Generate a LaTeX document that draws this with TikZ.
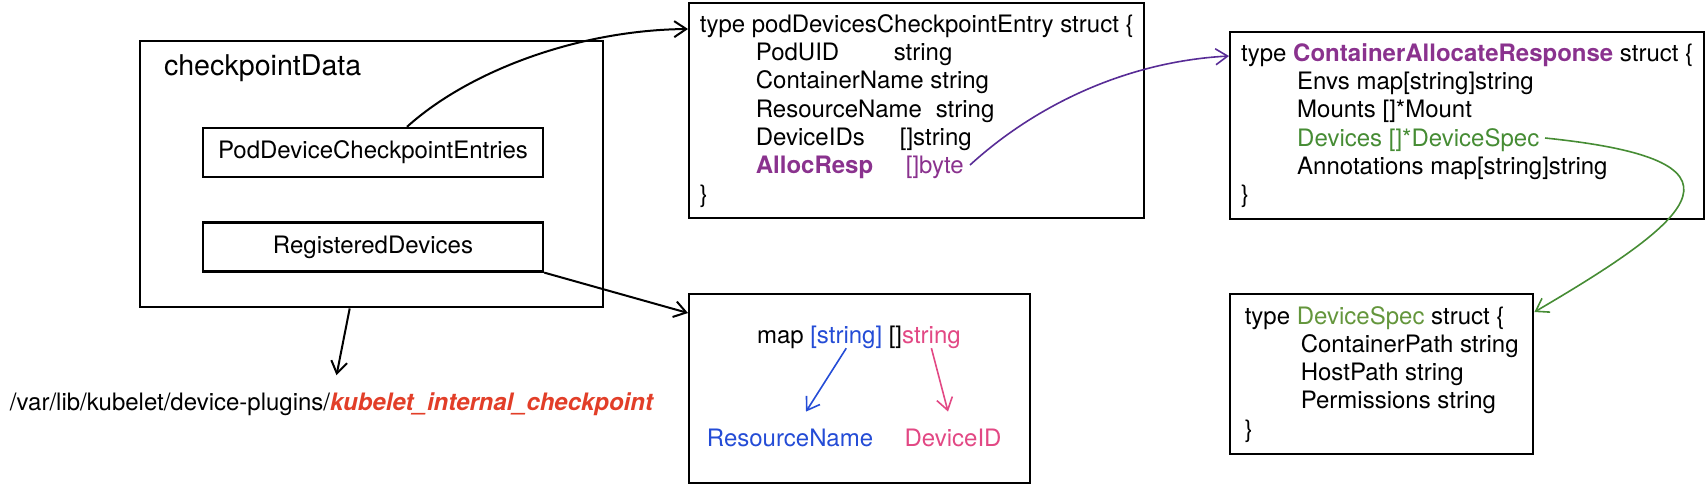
\documentclass[tikz,border=0pt]{standalone}
\usepackage{fontspec}
\setmainfont{TeX Gyre Heros}
\usepackage{xcolor}
\usetikzlibrary{arrows.meta,positioning}

\definecolor{purp}{RGB}{138,50,142}
\definecolor{arrpurp}{RGB}{88,44,150}
\definecolor{grn}{RGB}{70,140,52}
\definecolor{olive}{RGB}{100,150,60}
\definecolor{blu}{RGB}{36,76,214}
\definecolor{pnk}{RGB}{226,72,132}
\definecolor{ckred}{RGB}{226,62,40}

\newcommand{\tb}{\hspace*{28pt}}

\begin{document}
\begin{tikzpicture}[x=0.5pt, y=-0.5pt, ->, >={Straight Barb[length=6pt,width=8pt]}, line width=1pt]
        \tikzstyle{every node}=[font=\fontsize{12}{14.15}\selectfont]
        \tikzstyle{box}=[draw, line width=1.2pt, rectangle, inner sep=0pt, anchor=north west]
        \tikzstyle{code}=[box, align=left]
        \tikzstyle{field}=[draw, line width=1.2pt, minimum width=170pt, minimum height=24.5pt, inner sep=0pt]
        \tikzstyle{txt}=[inner sep=0pt, outer sep=0pt]
        \useasboundingbox (0,0) rectangle (1706,484);

        % checkpoint data
        \node[box, minimum width=231.5pt, minimum height=133pt] (cpdata) at (139,40) {};
        \node[txt, anchor=west, font=\fontsize{14.3}{16}\selectfont] (cptitle) at (164,68) {checkpointData};
        \node[field] (entries) at (373,152.5) {PodDeviceCheckpointEntries};
        \node[field] (regdev) [below=21.5pt of entries] {RegisteredDevices};
        \node[txt, anchor=base west] (ckpath) at (10,410) {/var/lib/kubelet/device-plugins/\textcolor{ckred}{\bfseries\itshape kubelet\_internal\_checkpoint}};

        % structs
        \node[code, minimum width=227.5pt, minimum height=107.5pt] (podentry) at (688,2) {type podDevicesCheckpointEntry struct \{\\
        \tb\makebox[69pt][l]{PodUID}string\\
        \tb ContainerName string\\
        \tb\makebox[90pt][l]{ResourceName}string\\
        \tb\makebox[72pt][l]{DeviceIDs}[]string\\
        \tb\makebox[75pt][l]{\textcolor{purp}{\bfseries AllocResp}}\textcolor{purp}{[]byte}\\
        \}};
        \node[code, minimum width=237pt, minimum height=93.5pt] (cresp) at (1229,31) {type \textcolor{purp}{\bfseries ContainerAllocateResponse} struct \{\\
        \tb Envs map[string]string\\
        \tb Mounts []*Mount\\
        \tb\textcolor{grn}{Devices []*DeviceSpec}\\
        \tb Annotations map[string]string\\
        \}};
        \node[code, minimum width=151.5pt, minimum height=80pt] (dspec) at (1229,293) {type \textcolor{olive}{DeviceSpec} struct \{\\
        \tb ContainerPath string\\
        \tb HostPath string\\
        \tb Permissions string\\
        \}};

        % registered devices map
        \node[box, minimum width=170.5pt, minimum height=94.5pt] (mapbox) at (688,293) {};
        \node[txt, anchor=base west] (mapkw) at (757,343) {map};
        \node[txt, text=blu] (mapkey) [base right=3.3pt of mapkw] {[string]};
        \node[txt] (mapbr) [base right=3.3pt of mapkey] {[]};
        \node[txt, text=pnk] (mapval) [base right=0pt of mapbr] {string};
        \node[txt, text=blu] (resname) at (790,438) {ResourceName};
        \node[txt, text=pnk] (devid) at (953,438) {DeviceID};

        \coordinate (bytes) at (970,165);
        \coordinate (devs) at (1545,138);

        \draw ([xshift=17pt]entries.north) .. controls (470,70) and (580,30) .. ([yshift=-13.5pt]podentry.north west);
        \draw (regdev.south east) -- ([yshift=-10pt]mapbox.north west);
        \draw ([xshift=-11pt]cpdata.south) -- ([xshift=2.5pt,yshift=8.5pt]ckpath.north);
        \draw[arrpurp, line width=0.8pt] (bytes) .. controls (1030,110) and (1120,62) .. ([yshift=-12.5pt]cresp.north west);
        \draw[grn, line width=0.8pt] (devs) .. controls (1760,160) and (1700,215) .. ([yshift=-9.5pt]dspec.north east);
        \draw[blu, line width=0.8pt] (mapkey.south) -- ([xshift=8pt,yshift=8.75pt]resname.north);
        \draw[pnk, line width=0.8pt] (mapval.south) -- ([xshift=-2.5pt,yshift=8.75pt]devid.north);
\end{tikzpicture}
\end{document}
